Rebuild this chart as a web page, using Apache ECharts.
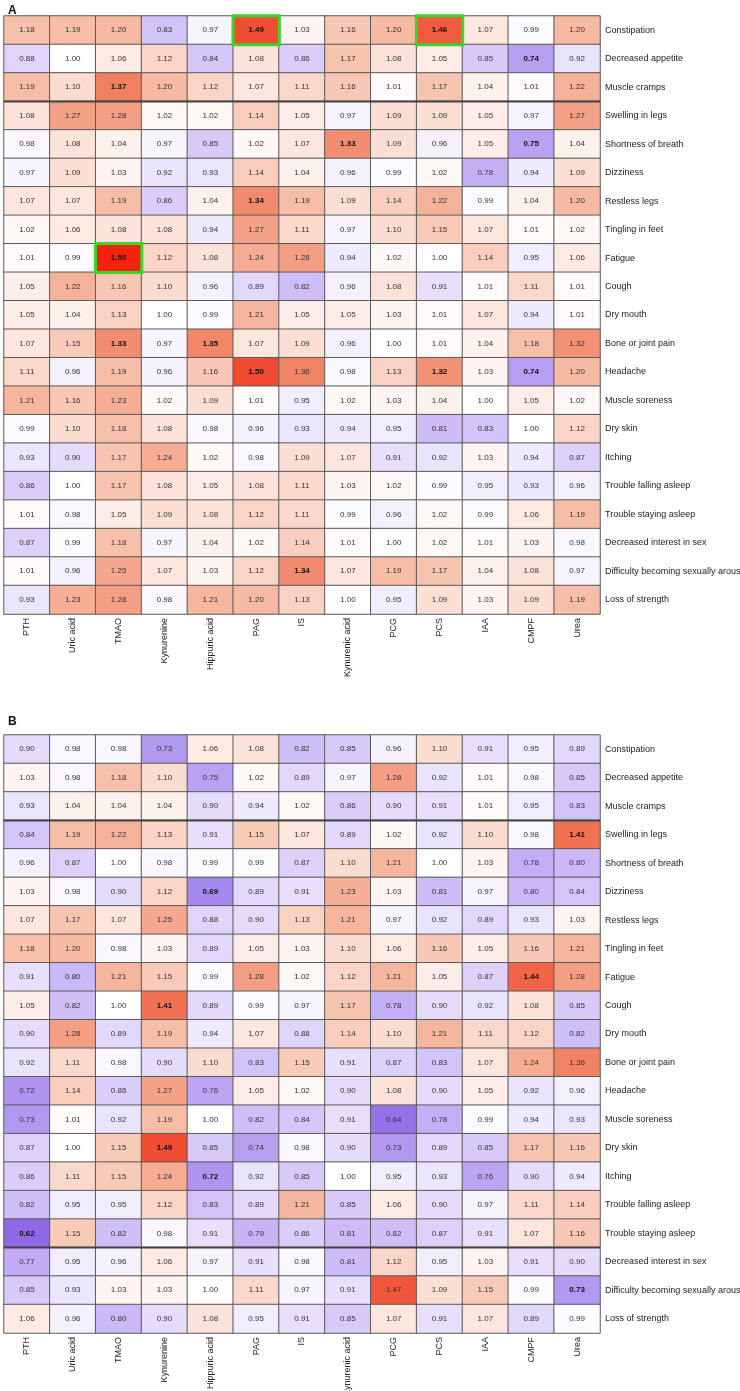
<!DOCTYPE html>
<html>
<head>
<meta charset="utf-8">
<script src="https://cdn.jsdelivr.net/npm/echarts@6/dist/echarts.min.js"></script>
<style>
html,body{margin:0;padding:0;background:#fff;overflow:hidden;}
#chart{width:740px;height:1391px;}
</style>
</head>
<body>
<div id="chart"></div>
<script>
const columns = ['PTH','Uric acid','TMAO','Kynurenine','Hippuric acid','PAG','IS','Kynurenic acid','PCG','PCS','IAA','CMPF','Urea'];
const symptoms = ['Constipation','Decreased appetite','Muscle cramps','Swelling in legs','Shortness of breath','Dizziness','Restless legs','Tingling in feet','Fatigue','Cough','Dry mouth','Bone or joint pain','Headache','Muscle soreness','Dry skin','Itching','Trouble falling asleep','Trouble staying asleep','Decreased interest in sex','Difficulty becoming sexually aroused','Loss of strength'];

const valuesA = [
  [1.18,1.19,1.20,0.83,0.97,1.49,1.03,1.16,1.20,1.46,1.07,0.99,1.20],
  [0.88,1.00,1.06,1.12,0.84,1.08,0.86,1.17,1.08,1.05,0.85,0.74,0.92],
  [1.19,1.10,1.37,1.20,1.12,1.07,1.11,1.16,1.01,1.17,1.04,1.01,1.22],
  [1.08,1.27,1.28,1.02,1.02,1.14,1.05,0.97,1.09,1.09,1.05,0.97,1.27],
  [0.98,1.08,1.04,0.97,0.85,1.02,1.07,1.33,1.09,0.96,1.05,0.75,1.04],
  [0.97,1.09,1.03,0.92,0.93,1.14,1.04,0.96,0.99,1.02,0.78,0.94,1.09],
  [1.07,1.07,1.19,0.86,1.04,1.34,1.19,1.09,1.14,1.22,0.99,1.04,1.20],
  [1.02,1.06,1.08,1.08,0.94,1.27,1.11,0.97,1.10,1.15,1.07,1.01,1.02],
  [1.01,0.99,1.59,1.12,1.08,1.24,1.28,0.94,1.02,1.00,1.14,0.95,1.06],
  [1.05,1.22,1.16,1.10,0.96,0.89,0.82,0.96,1.08,0.91,1.01,1.11,1.01],
  [1.05,1.04,1.13,1.00,0.99,1.21,1.05,1.05,1.03,1.01,1.07,0.94,1.01],
  [1.07,1.15,1.33,0.97,1.35,1.07,1.09,0.96,1.00,1.01,1.04,1.18,1.32],
  [1.11,0.96,1.19,0.96,1.16,1.50,1.36,0.98,1.13,1.32,1.03,0.74,1.20],
  [1.21,1.16,1.23,1.02,1.09,1.01,0.95,1.02,1.03,1.04,1.00,1.05,1.02],
  [0.99,1.10,1.18,1.08,0.98,0.96,0.93,0.94,0.95,0.81,0.83,1.00,1.12],
  [0.93,0.90,1.17,1.24,1.02,0.98,1.09,1.07,0.91,0.92,1.03,0.94,0.87],
  [0.86,1.00,1.17,1.08,1.05,1.08,1.11,1.03,1.02,0.99,0.95,0.93,0.96],
  [1.01,0.98,1.05,1.09,1.08,1.12,1.11,0.99,0.96,1.02,0.99,1.06,1.19],
  [0.87,0.99,1.18,0.97,1.04,1.02,1.14,1.01,1.00,1.02,1.01,1.03,0.98],
  [1.01,0.96,1.25,1.07,1.03,1.12,1.34,1.07,1.19,1.17,1.04,1.08,0.97],
  [0.93,1.23,1.28,0.98,1.21,1.20,1.13,1.00,0.95,1.09,1.03,1.09,1.19]
];

const valuesB = [
  [0.90,0.98,0.98,0.73,1.06,1.08,0.82,0.85,0.96,1.10,0.91,0.95,0.89],
  [1.03,0.98,1.18,1.10,0.75,1.02,0.89,0.97,1.28,0.92,1.01,0.98,0.85],
  [0.93,1.04,1.04,1.04,0.90,0.94,1.02,0.86,0.90,0.91,1.01,0.95,0.83],
  [0.84,1.19,1.22,1.13,0.91,1.15,1.07,0.89,1.02,0.92,1.10,0.98,1.41],
  [0.96,0.87,1.00,0.98,0.99,0.99,0.87,1.10,1.21,1.00,1.03,0.78,0.80],
  [1.03,0.98,0.90,1.12,0.69,0.89,0.91,1.23,1.03,0.81,0.97,0.80,0.84],
  [1.07,1.17,1.07,1.25,0.88,0.90,1.13,1.21,0.97,0.92,0.89,0.93,1.03],
  [1.18,1.20,0.98,1.03,0.89,1.05,1.03,1.10,1.06,1.16,1.05,1.16,1.21],
  [0.91,0.80,1.21,1.15,0.99,1.28,1.02,1.12,1.21,1.05,0.87,1.44,1.28],
  [1.05,0.82,1.00,1.41,0.89,0.99,0.97,1.17,0.78,0.90,0.92,1.08,0.85],
  [0.90,1.28,0.89,1.19,0.94,1.07,0.88,1.14,1.10,1.21,1.11,1.12,0.82],
  [0.92,1.11,0.98,0.90,1.10,0.83,1.15,0.91,0.87,0.83,1.07,1.24,1.36],
  [0.72,1.14,0.86,1.27,0.76,1.05,1.02,0.90,1.08,0.90,1.05,0.92,0.96],
  [0.73,1.01,0.92,1.19,1.00,0.82,0.84,0.91,0.64,0.78,0.99,0.94,0.93],
  [0.87,1.00,1.15,1.49,0.85,0.74,0.98,0.90,0.73,0.89,0.85,1.17,1.16],
  [0.86,1.11,1.15,1.24,0.72,0.92,0.85,1.00,0.95,0.93,0.76,0.90,0.94],
  [0.82,0.95,0.95,1.12,0.83,0.89,1.21,0.85,1.06,0.90,0.97,1.11,1.14],
  [0.62,1.15,0.82,0.98,0.91,0.79,0.86,0.81,0.82,0.87,0.91,1.07,1.16],
  [0.77,0.95,0.96,1.06,0.97,0.91,0.98,0.81,1.12,0.95,1.03,0.91,0.90],
  [0.85,0.93,1.03,1.03,1.00,1.11,0.97,0.91,1.47,1.09,1.15,0.99,0.73],
  [1.06,0.96,0.80,0.90,1.08,0.95,0.91,0.85,1.07,0.91,1.07,0.89,0.99]
];

// [row, column] of values printed in bold
const boldA = [[0,5],[0,9],[1,11],[2,2],[4,7],[4,11],[6,5],[8,2],[11,2],[11,4],[12,5],[12,9],[12,11],[19,6]];
const boldB = [[3,12],[5,4],[8,11],[9,3],[14,3],[15,4],[17,0],[19,12]];
// [row, column] of cells outlined in green
const outlinedA = [[0,5],[0,9],[8,2]];
// rows below which a heavier separator line is drawn
const separatorsA = [2];
const separatorsB = [2, 17];

const FONT = '"Liberation Sans", Arial, Helvetica, sans-serif';

function isIn(list, r, c){ return list.some(p => p[0] === r && p[1] === c); }

function buildData(values, bold){
  const out = [];
  values.forEach((row, r) => row.forEach((v, c) => {
    const item = { value: [c, r, v] };
    if (isIn(bold, r, c)) item.label = { fontWeight: 'bold', color: '#111' };
    out.push(item);
  }));
  return out;
}
function buildOutlined(values, list){
  return list.map(([r, c]) => ({ value: [c, r, values[r][c]], label: { fontWeight: 'bold', color: '#111' } }));
}

const grids = [
  { left: 4, top: 16, width: 596, height: 598, outerBoundsMode: 'none', containLabel: false },
  { left: 4, top: 735, width: 596, height: 598, outerBoundsMode: 'none', containLabel: false }
];

function xAxis(i){
  return {
    type: 'category', data: columns, gridIndex: i, position: 'bottom',
    axisLine: { show: false }, axisTick: { show: false }, splitLine: { show: false },
    axisLabel: { rotate: 90, interval: 0, margin: 4, fontSize: 9, color: '#222', fontFamily: FONT }
  };
}
function yAxis(i){
  return {
    type: 'category', data: symptoms, gridIndex: i, inverse: true, position: 'right',
    axisLine: { show: false }, axisTick: { show: false }, splitLine: { show: false },
    axisLabel: { interval: 0, margin: 5, fontSize: 9, color: '#222', fontFamily: FONT }
  };
}

const labelStyle = {
  show: true, fontSize: 8, color: '#333', fontFamily: FONT,
  formatter: p => p.value[2].toFixed(2)
};
const cellStyle = { borderColor: '#5a5a5a', borderWidth: 1 };

const option = {
  animation: false,
  backgroundColor: '#fff',
  title: [
    { text: 'A', left: 3, top: 0, textStyle: { fontSize: 12, fontWeight: 'bold', color: '#111', fontFamily: FONT } },
    { text: 'B', left: 3, top: 711, textStyle: { fontSize: 12, fontWeight: 'bold', color: '#111', fontFamily: FONT } }
  ],
  grid: grids,
  xAxis: [xAxis(0), xAxis(1)],
  yAxis: [yAxis(0), yAxis(1)],
  visualMap: {
    type: 'continuous', show: false, min: 0.6, max: 1.6, dimension: 2,
    seriesIndex: [0, 1, 2],
    inRange: { color: ['#8660e4', '#cab8f7', '#ffffff', '#f6b9a2', '#f07656', '#f41d0b'] }
  },
  series: [
    { type: 'heatmap', xAxisIndex: 0, yAxisIndex: 0, data: buildData(valuesA, boldA),
      label: labelStyle, itemStyle: cellStyle, emphasis: { disabled: true } },
    { type: 'heatmap', xAxisIndex: 1, yAxisIndex: 1, data: buildData(valuesB, boldB),
      label: labelStyle, itemStyle: cellStyle, emphasis: { disabled: true } },
    { type: 'heatmap', xAxisIndex: 0, yAxisIndex: 0, z: 5, data: buildOutlined(valuesA, outlinedA),
      label: labelStyle, itemStyle: { borderColor: '#3ad62a', borderWidth: 3 }, emphasis: { disabled: true } }
  ]
};

const chart = echarts.init(document.getElementById('chart'), null, { renderer: 'canvas' });
chart.setOption(option);

// heavier separator lines between row groups, positioned through the axes
function separatorLines(gridIndex, rows){
  const gridRect = grids[gridIndex];
  return rows.map(r => {
    const a = chart.convertToPixel({ gridIndex }, [0, r]);
    const b = chart.convertToPixel({ gridIndex }, [0, r + 1]);
    const y = (a[1] + b[1]) / 2;
    return {
      type: 'line', z: 10,
      shape: { x1: gridRect.left, y1: y, x2: gridRect.left + gridRect.width, y2: y },
      style: { stroke: '#444', lineWidth: 2 }
    };
  });
}
chart.setOption({ graphic: separatorLines(0, separatorsA).concat(separatorLines(1, separatorsB)) });
</script>
</body>
</html>
